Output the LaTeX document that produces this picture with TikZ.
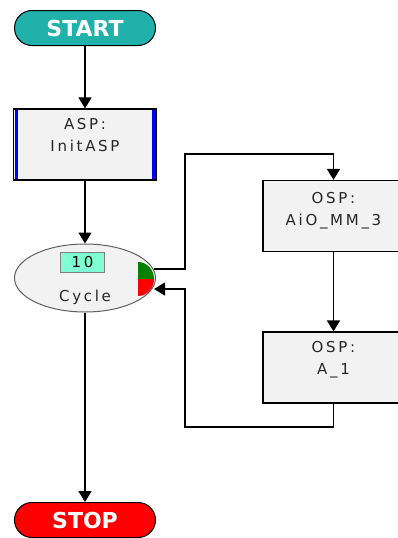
\documentclass[tikz,border=0pt]{standalone}
\usepackage{fontspec}
\setmainfont{DejaVu Sans}
\newfontfamily\boxfont[LetterSpace=18]{DejaVu Sans}
\usetikzlibrary{arrows.meta,shapes.geometric,shapes.misc}
\definecolor{startc}{HTML}{20B2AA}
\definecolor{stopc}{HTML}{FF0000}
\definecolor{boxfill}{HTML}{F2F2F2}
\definecolor{cntfill}{HTML}{80FFD4}
\definecolor{barblue}{HTML}{0000FF}
\definecolor{grn}{HTML}{008000}
\definecolor{ellborder}{HTML}{606060}
\tikzset{
  term/.style={rounded rectangle, draw=black, line width=1pt, minimum width=141pt, minimum height=35pt, inner sep=0pt, text=white, font=\fontsize{22}{24}\selectfont\bfseries},
  stepbox/.style={rectangle, draw=black, line width=1.2pt, fill=boxfill, minimum width=141pt, minimum height=71pt, inner sep=0pt},
  boxtext/.style={anchor=north, align=center, inner sep=0pt, text=black!85, font=\boxfont\fontsize{15}{22}\selectfont},
  arr/.style={line width=1.4pt, -{Triangle[width=13pt,length=11pt]}},
}
\begin{document}
\begin{tikzpicture}[x=1pt,y=-1pt]
\useasboundingbox (0,0) rectangle (398,538);
\begin{scope}
\clip (0,0) rectangle (398,538);
% terminals
\node[term, fill=startc] (start) at (85,28) {START};
\node[term, fill=stopc] (stop) at (85,520) {STOP};
% ASP box
\node[stepbox, minimum width=143pt] (asp) at (85,144.5) {};
\fill[barblue] (14.5,110) rectangle (18,179);
\fill[barblue] (152,110) rectangle (155.5,179);
\node[boxtext] at ([yshift=-10pt]asp.north) {ASP:\\InitASP};
% cycle ellipse
\node[ellipse, draw=ellborder, line width=1pt, fill=boxfill, minimum width=141pt, minimum height=68pt, inner sep=0pt] (cyc) at (85,278) {};
\fill[grn] (138,262) -- (138,279) -- (154,279) arc[start angle=0, end angle=90, x radius=16pt, y radius=17pt] -- cycle;
\fill[stopc] (138,279) -- (138,296) arc[start angle=-90, end angle=0, x radius=16pt, y radius=17pt] -- cycle;
\node[draw=gray, line width=1pt, fill=cntfill, minimum width=44pt, minimum height=20pt, inner sep=0pt, font=\boxfont\fontsize{15}{18}\selectfont] (cnt) at (82.5,262) {10};
\node[boxtext, anchor=center] (cyclab) at (85,297) {Cycle};
% OSP boxes
\node[stepbox] (osp1) at (333.5,216) {};
\node[boxtext] at ([yshift=-12pt]osp1.north) {OSP:\\AiO\_MM\_3};
\node[stepbox] (osp2) at (333.5,367.5) {};
\node[boxtext] at ([yshift=-10pt]osp2.north) {OSP:\\A\_1};
% coordinates
\coordinate (cout) at (154,269);
\coordinate (cin) at (154,289);
\coordinate (ltop) at (185,154);
\coordinate (lbot) at (185,427);
% connectors
\draw[arr] (start.south) -- (asp.north);
\draw[arr] (asp.south) -- (cyc.north);
\draw[arr] (cyc.south) -- (stop.north);
\draw[arr] (cout) -| (ltop) -| (osp1.north);
\draw[arr] (osp1.south) -- (osp2.north);
\draw[arr] (osp2.south) |- (lbot) |- (cin);
\end{scope}
\end{tikzpicture}
\end{document}
